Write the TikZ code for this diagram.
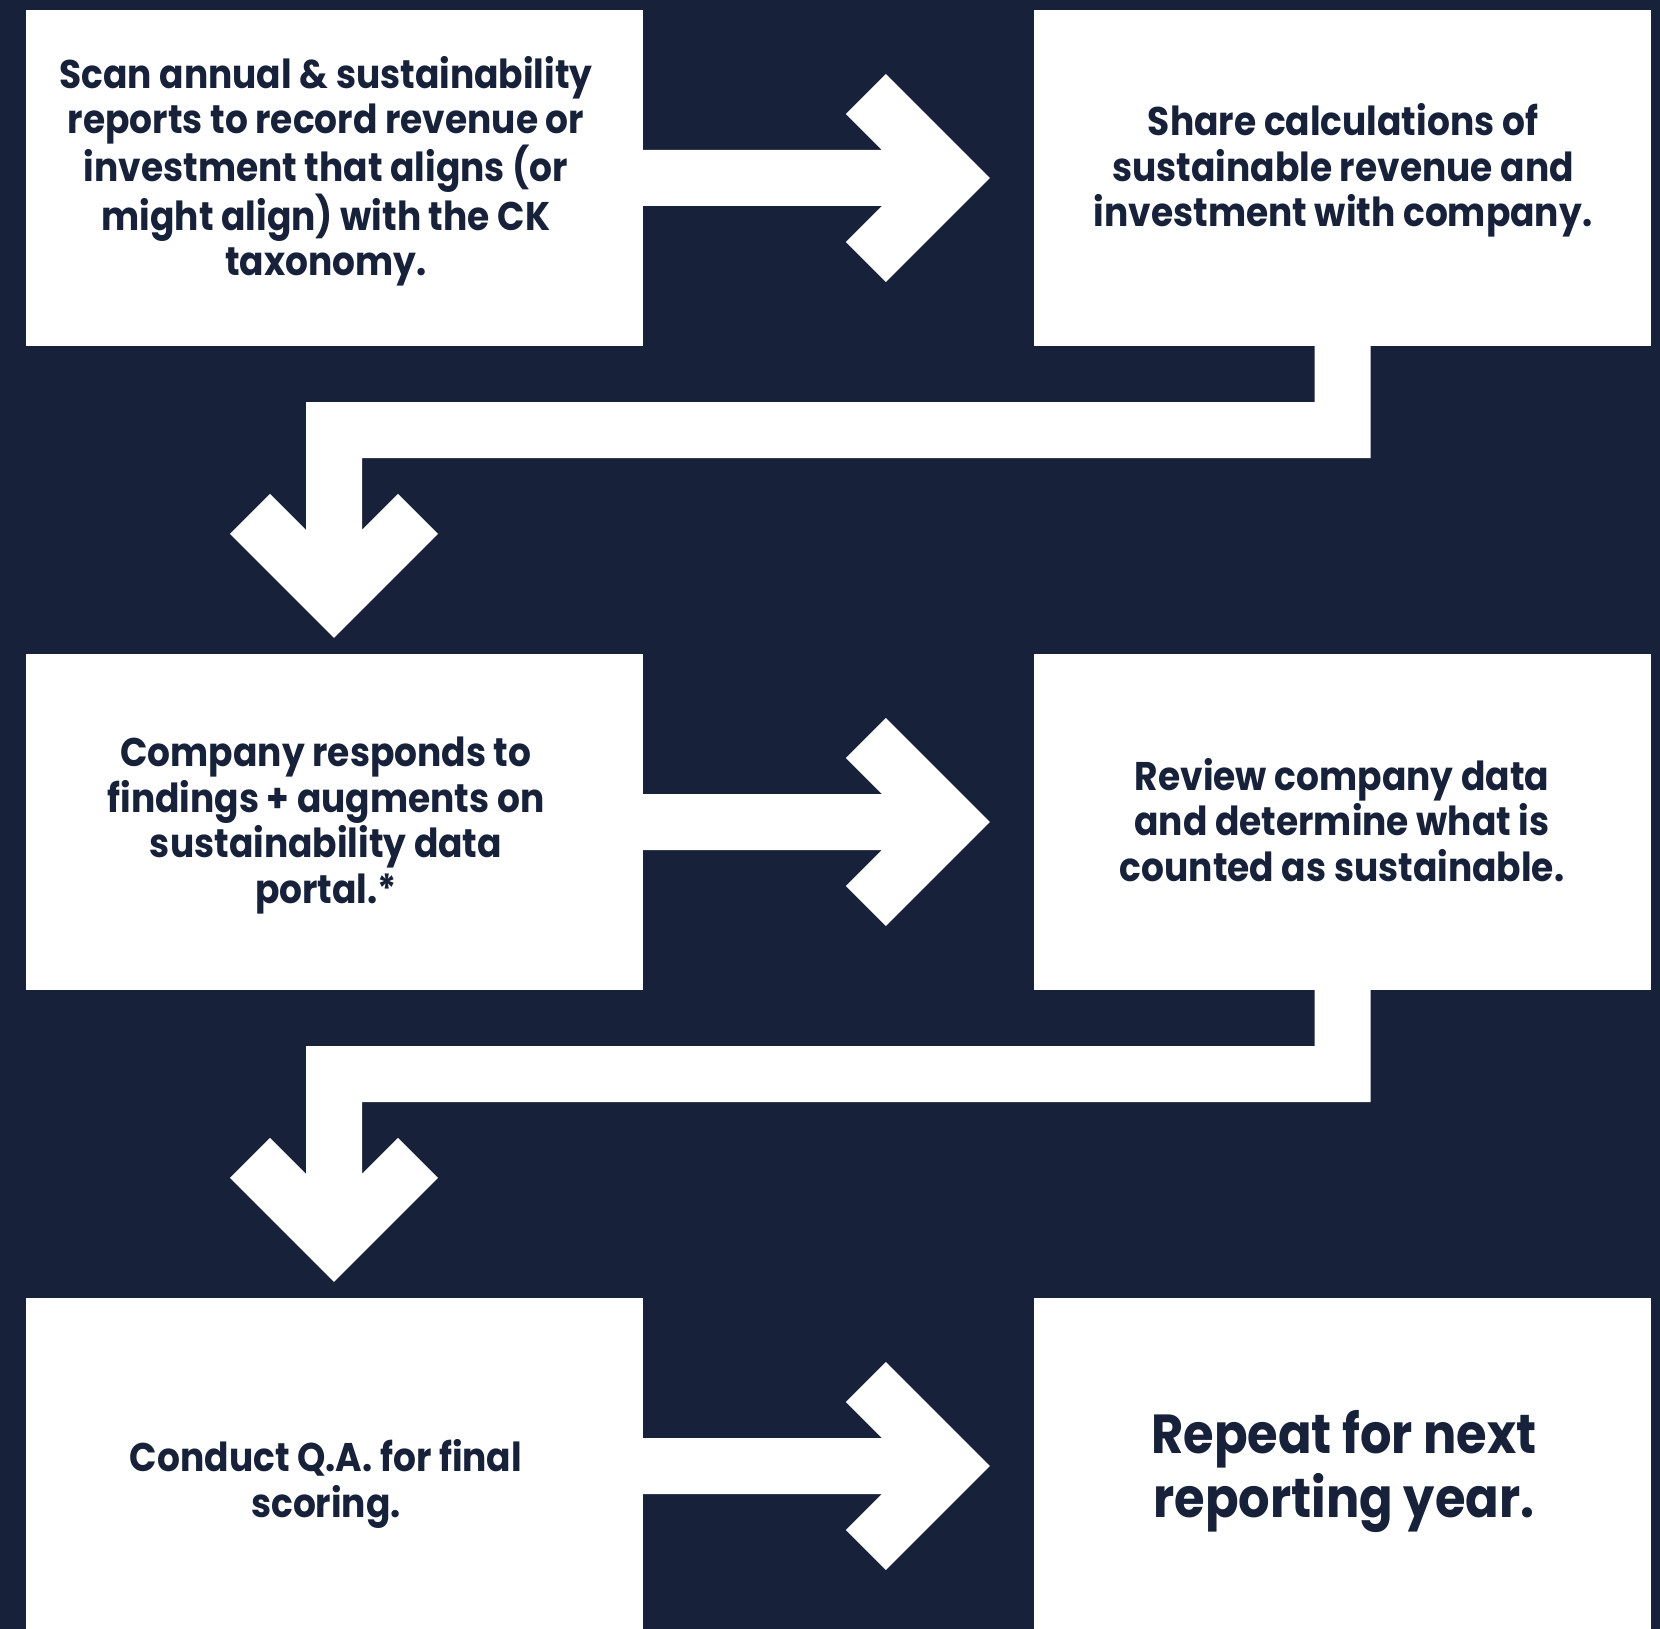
\documentclass[tikz,border=0pt]{standalone}
\usepackage{fontspec}
\setmainfont{Poppins}[FakeStretch=0.9]
\usetikzlibrary{calc}
\definecolor{navy}{RGB}{23,34,58}
\begin{document}
\begin{tikzpicture}[x=1pt,y=-1pt,
  box/.style={fill=white,draw=none,inner sep=0pt,minimum width=617pt,minimum height=336pt},
  conn/.style={fill=white,draw=none},
  txt/.style={text=navy,align=center,anchor=base,inner sep=0pt,
    font=\bfseries\fontsize{40pt}{45.5pt}\selectfont},
  bigtxt/.style={txt,font=\bfseries\fontsize{55pt}{64pt}\selectfont}]
\useasboundingbox (0,0) rectangle (1660,1629);
\fill[navy] (0,0) rectangle (1660,1629);
\clip (0,0) rectangle (1660,1629);

% boxes
\node[box] (b1) at (334,178) {};
\node[box] (b2) at (1342.5,178) {};
\node[box] (b3) at (334,822) {};
\node[box] (b4) at (1342.5,822) {};
\node[box] (b5) at (334,1466) {};
\node[box] (b6) at (1342.5,1466) {};

% texts (anchored at the baseline of the last line)
\node[txt] (t1) at (326,276) {Scan annual \& sustainability\\reports to record revenue or\\investment that aligns (or\\might align) with the CK\\taxonomy.};
\node[txt] (t2) at (1343,227) {Share calculations of\\sustainable revenue and\\investment with company.};
\node[txt] (t3) at (326,903) {Company responds to\\findings + augments on\\sustainability data\\portal.*};
\node[txt] (t4) at (1342,881) {Review company data\\and determine what is\\counted as sustainable.};
\node[txt] (t5) at (326,1517) {Conduct Q.A. for final\\scoring.};
\node[bigtxt] (t6) at (1344,1517) {Repeat for next\\reporting year.};

% right arrows
\foreach \a/\b in {b1/b2,b3/b4,b5/b6}{
  \fill[conn] ($(\a.east)+(0,-28)$) -- ($(\b.west)+(-152,-28)$) -- ($(\b.west)+(-188,-64)$)
    -- ($(\b.west)+(-148,-104)$) -- ($(\b.west)+(-44,0)$) -- ($(\b.west)+(-148,104)$)
    -- ($(\b.west)+(-188,64)$) -- ($(\b.west)+(-152,28)$) -- ($(\a.east)+(0,28)$) -- cycle;
}

% down connectors
\foreach \a/\b/\n in {b2/b3/1,b4/b5/2}{
  \coordinate (tip\n) at ($(\b.north)+(0,-16)$);
  \coordinate (k\n) at ($(\a.south)+(0,84)$);
  \coordinate (c\n) at (tip\n|-k\n);
  \fill[conn] ($(\a.south)+(-28,0)$) -- ($(k\n)+(-28,-28)$) -- ($(c\n)+(-28,-28)$)
    -- ($(tip\n)+(-28,-108)$) -- ($(tip\n)+(-64,-144)$) -- ($(tip\n)+(-104,-104)$)
    -- (tip\n) -- ($(tip\n)+(104,-104)$) -- ($(tip\n)+(64,-144)$) -- ($(tip\n)+(28,-108)$)
    -- ($(c\n)+(28,28)$) -- ($(k\n)+(28,28)$) -- ($(\a.south)+(28,0)$) -- cycle;
}
\end{tikzpicture}
\end{document}
